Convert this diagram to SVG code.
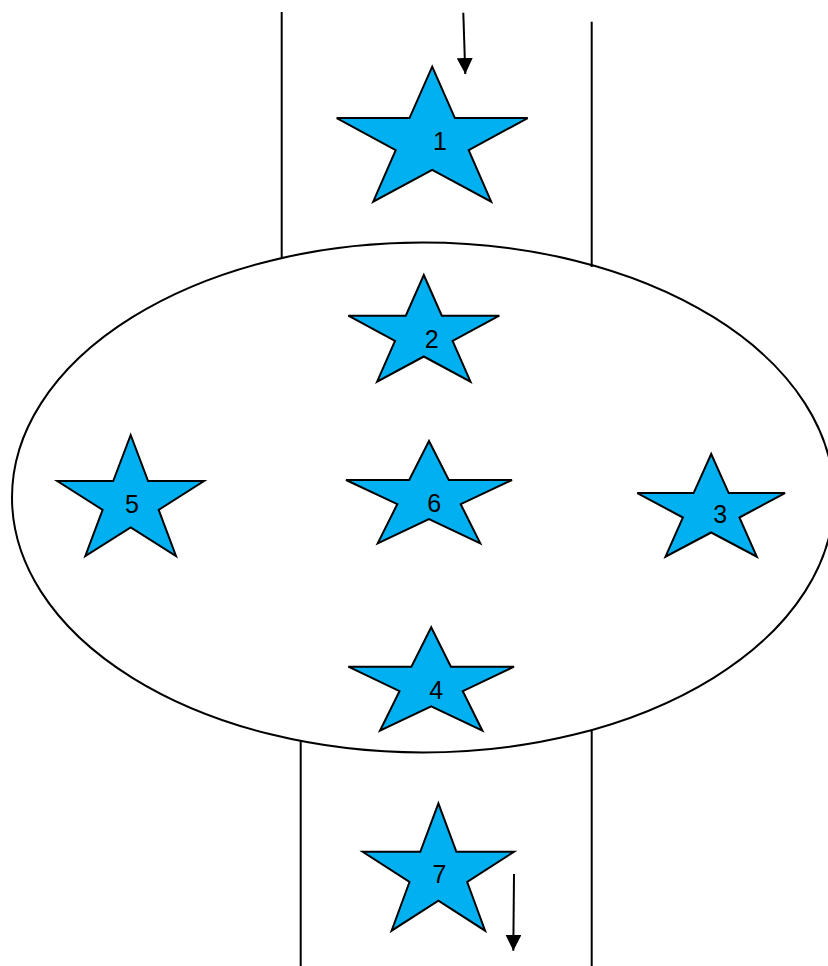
<svg xmlns="http://www.w3.org/2000/svg" width="828" height="966" viewBox="0 0 828 966">
  <style>
    .star { fill: #00B0F0; stroke: #000; stroke-width: 2; stroke-linejoin: miter; }
    .lbl { font-family: "Liberation Sans", Arial, sans-serif; font-size: 25px; fill: #000; text-anchor: middle; }
    .wall { stroke: #000; stroke-width: 2; fill: none; }
    .conn { stroke: #000; stroke-width: 2; fill: none; marker-end: url(#arrow); }
  </style>
  <defs>
    <marker id="arrow" markerUnits="userSpaceOnUse" markerWidth="16" markerHeight="16" refX="16" refY="8" orient="auto">
      <path d="M0,0 L16,8 L0,16 Z" fill="#000"/>
    </marker>
  </defs>
  <rect width="828" height="966" fill="#fff"/>

  <g id="background">
    <line class="wall" x1="281.7" y1="12" x2="281.7" y2="257.5"/>
    <line class="wall" x1="591.7" y1="21.7" x2="591.7" y2="267"/>
    <line class="wall" x1="300.7" y1="740.5" x2="300.7" y2="966"/>
    <line class="wall" x1="591.7" y1="729.6" x2="591.7" y2="966"/>
    <ellipse class="wall" cx="423" cy="497.5" rx="411" ry="255"/>
  </g>

  <g id="node-1">
    <polygon class="star" points="432.2,66.7 454.9,118.1 527.7,118.1 468.7,150.1 491.2,201.7 432.2,169.8 373.2,201.7 395.7,150.1 336.7,118.1 409.5,118.1"/>
    <text class="lbl" x="440" y="150">1</text>
  </g>
  <g id="node-2">
    <polygon class="star" points="423.8,275 441.8,315.7 499.3,315.7 452.6,340.9 470.5,381.7 423.8,356.5 377.1,381.7 395,340.9 348.3,315.7 405.8,315.7"/>
    <text class="lbl" x="431.7" y="348">2</text>
  </g>
  <g id="node-6">
    <polygon class="star" points="429,441 448.8,480 512,480 460.7,504.2 480.3,543.3 429,519.2 377.7,543.3 397.3,504.2 346,480 409.2,480"/>
    <text class="lbl" x="434.3" y="512">6</text>
  </g>
  <g id="node-5">
    <polygon class="star" points="130.7,435 148.1,481.1 204,481.1 158.7,509.8 176,556 130.7,527.4 85.3,556 102.6,509.8 57.3,481.1 113.2,481.1"/>
    <text class="lbl" x="132" y="512.7">5</text>
  </g>
  <g id="node-3">
    <polygon class="star" points="711.2,454 728.7,493.1 785,493.1 739.4,517.5 756.8,556.7 711.2,532.5 665.5,556.7 682.9,517.5 637.3,493.1 693.6,493.1"/>
    <text class="lbl" x="720.3" y="523">3</text>
  </g>
  <g id="node-4">
    <polygon class="star" points="431.2,627.3 450.9,666.7 514,666.7 462.8,691.2 482.4,730.7 431.2,706.3 380,730.7 399.5,691.2 348.3,666.7 411.4,666.7"/>
    <text class="lbl" x="436.3" y="699.3">4</text>
  </g>
  <g id="node-7">
    <polygon class="star" points="438.4,803.3 456.4,851.8 514,851.8 467.2,882 485.1,930.7 438.4,900.6 391.6,930.7 409.5,882 362.7,851.8 420.3,851.8"/>
    <text class="lbl" x="439.5" y="883.3">7</text>
  </g>

  <g id="connectors">
    <line class="conn" x1="463.3" y1="12.7" x2="465.3" y2="74"/>
    <line class="conn" x1="514" y1="874" x2="513.3" y2="950.7"/>
  </g>
</svg>
